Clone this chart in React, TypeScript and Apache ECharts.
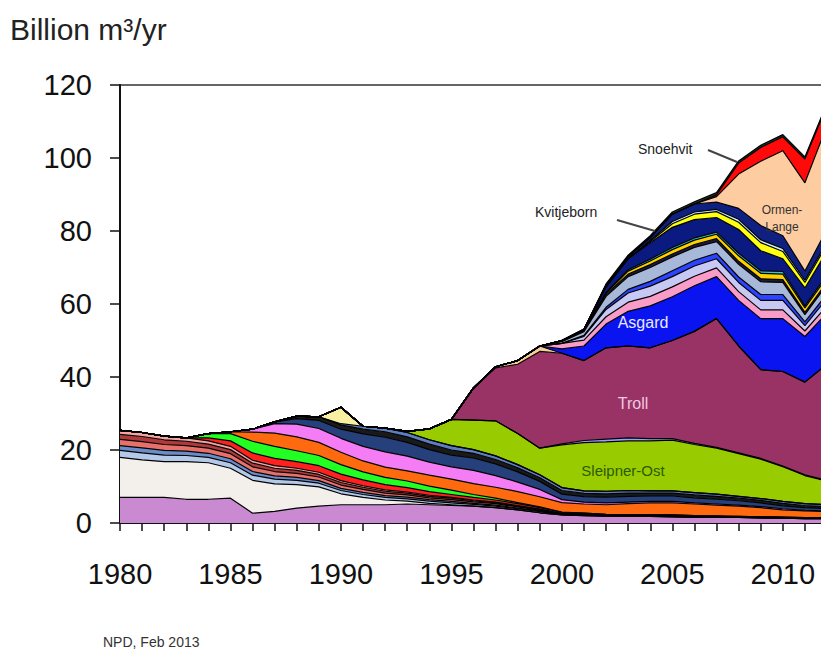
import React, { useEffect, useRef } from "react";
import * as echarts from "echarts";

const years = ["1980","1981","1982","1983","1984","1985","1986","1987","1988","1989","1990","1991","1992","1993","1994","1995","1996","1997","1998","1999","2000","2001","2002","2003","2004","2005","2006","2007","2008","2009","2010","2011","2012"];

const ekofisk = [7.0,7.0,7.0,6.5,6.5,6.8,2.7,3.2,4.1,4.6,5.0,5.0,5.0,5.2,5.0,4.8,4.6,4.2,3.6,2.8,2.2,2.0,1.9,1.8,1.8,1.7,1.6,1.6,1.5,1.4,1.3,1.2,1.2];
const frigg = [11.0,10.3,9.8,10.3,10.0,8.2,9.0,7.5,6.4,5.3,3.0,2.0,1.3,0.8,0.4,0.2,0,0,0,0,0,0,0,0,0,0,0,0,0,0,0,0,0];
const lightBlue = [1.9,1.9,1.8,1.7,1.5,1.5,1.4,1.3,1.2,1.0,0.9,0.8,0.7,0.6,0.6,0.5,0.5,0.4,0.3,0.3,0.1,0.1,0.1,0.1,0.1,0.1,0,0,0,0,0,0,0];
const steelBlue = [1.3,1.4,1.3,1.2,1.1,1.1,1.0,0.9,0.8,0.7,0.6,0.6,0.5,0.5,0.4,0.4,0.3,0.3,0.2,0.2,0.1,0.1,0.1,0.1,0.1,0.1,0.1,0.1,0.1,0.1,0.1,0.1,0.1];
const salmonRed = [1.7,1.7,1.6,1.5,1.4,1.4,1.3,1.2,1.1,1.0,0.9,0.8,0.7,0.6,0.5,0.5,0.4,0.4,0.3,0.2,0.1,0.1,0.1,0.1,0.1,0.1,0.1,0.1,0.1,0.1,0.1,0.1,0.1];
const darkRed = [1.4,1.4,1.3,1.2,1.1,1.1,1.0,0.9,0.8,0.7,0.7,0.6,0.5,0.5,0.4,0.4,0.3,0.2,0.2,0.2,0.1,0.1,0,0,0,0,0,0,0,0,0,0,0];
const salmon = [1.1,1.1,1.0,0.9,0.9,0.9,0.8,0.7,0.6,0.6,0.5,0.4,0.4,0.3,0.3,0.2,0.2,0.2,0.2,0.1,0,0,0,0,0,0,0,0,0,0,0,0,0];
const red80s = [0,0,0,0,0.8,1.5,2.0,2.0,1.8,1.8,1.8,1.6,1.4,1.2,1.0,0.8,0.7,0.6,0.5,0.4,0.3,0.3,0.2,0.2,0.2,0.2,0.2,0.1,0.1,0.1,0.1,0.1,0.1];
const green80s = [0,0,0,0,1.2,2.0,3.2,3.3,3.0,2.8,2.6,2.2,2.0,1.8,1.5,1.2,0.8,0.5,0.3,0.2,0.1,0,0,0,0,0,0,0,0,0,0,0,0];
const orange = [0,0,0,0,0,0.5,2.5,3.6,3.8,3.6,3.4,3.0,2.8,2.8,3.0,3.0,3.0,3.0,3.0,2.8,2.6,2.5,2.6,3.0,3.2,3.3,3.2,3.0,2.8,2.5,2.0,1.8,1.6];
const magenta = [0,0,0,0,0,0,0.8,2.6,3.5,3.8,3.8,4.0,4.2,4.0,3.6,3.4,3.6,3.2,2.6,2.0,0.8,0.5,0.5,0.4,0.4,0.4,0.3,0.3,0.3,0.3,0.3,0.2,0.2];
const navy90s = [0,0,0,0,0,0,0,0.5,1.5,2.2,2.5,3.4,4.0,3.8,3.4,3.2,3.4,3.2,2.8,2.2,1.5,1.5,1.6,1.6,1.5,1.5,1.4,1.3,1.2,1.0,0.8,0.7,0.6];
const darkBand = [0,0,0,0,0,0,0,0,0.7,1.0,1.2,1.3,1.5,1.5,1.5,1.4,1.3,1.2,1.1,1.0,1.0,0.9,0.9,0.9,0.8,0.8,0.8,0.8,0.7,0.7,0.7,0.6,0.6];
const blueDotted = [0,0,0,0,0,0,0,0,0,0,0.3,0.8,1.0,1.2,1.2,1.2,1.0,1.0,0.9,0.8,0.8,0.7,0.7,0.7,0.6,0.6,0.6,0.6,0.5,0.5,0.5,0.5,0.5];
const yellowSpike = [0,0,0,0,0,0,0,0,0,0,4.5,0,0,0,0,0,0,0,0,0,0,0,0,0,0,0,0,0,0,0,0,0,0];
const sleipner = [0,0,0,0,0,0,0,0,0,0,0,0,0,0.3,3.0,7.2,8.1,9.6,8.5,7.3,11.7,13.2,13.5,13.6,13.7,13.9,13.2,12.6,11.7,10.8,9.5,7.7,6.5];
const periwinkle = [0,0,0,0,0,0,0,0,0,0,0,0,0,0,0,0,0,0,0,0,0.3,0.6,0.8,0.8,0.6,0.4,0.3,0.2,0.2,0.2,0.2,0.2,0.2];
const troll = [0,0,0,0,0,0,0,0,0,0,0,0,0,0,0,0,8.8,14.5,19.0,26.5,24.8,21.9,25.0,25.2,24.9,26.9,30.7,35.3,29.3,24.3,25.9,25.4,31.8];
const tan = [0,0,0,0,0,0,0,0,0,0,0,0,0,0,0,0,0,0.3,1.0,1.5,0,0,0,0,0,0,0,0,0,0,0,0,0];
const asgard = [0,0,0,0,0,0,0,0,0,0,0,0,0,0,0,0,0,0,0,0,1.2,4.0,6.5,9.5,11.5,12.0,12.5,11.5,12.5,14.0,14.5,12.5,14.0];
const pink = [0,0,0,0,0,0,0,0,0,0,0,0,0,0,0,0,0,0,0,0,1.5,1.6,2.0,2.5,2.6,2.7,2.6,2.4,2.4,2.4,2.4,1.5,2.0];
const lavender = [0,0,0,0,0,0,0,0,0,0,0,0,0,0,0,0,0,0,0,0,0,1.0,2.0,2.5,2.8,2.8,2.8,2.5,2.5,2.6,2.6,1.5,2.0];
const brightBlue = [0,0,0,0,0,0,0,0,0,0,0,0,0,0,0,0,0,0,0,0,0,0.3,0.6,1.0,1.3,1.6,1.6,1.5,1.5,1.6,1.6,1.0,1.3];
const grayBlue = [0,0,0,0,0,0,0,0,0,0,0,0,0,0,0,0,0,0,0,0,0.5,1.0,3.0,3.5,3.8,3.8,3.5,3.2,3.5,3.5,3.3,2.0,2.5];
const darkLine = [0,0,0,0,0,0,0,0,0,0,0,0,0,0,0,0,0,0,0,0,0.3,0.4,0.6,0.7,0.8,0.8,0.8,0.8,0.8,0.8,0.8,0.6,0.7];
const gold = [0,0,0,0,0,0,0,0,0,0,0,0,0,0,0,0,0,0,0,0,0,0,0.3,0.8,1.0,1.2,1.2,1.2,1.5,1.5,1.5,1.2,1.4];
const cyan = [0,0,0,0,0,0,0,0,0,0,0,0,0,0,0,0,0,0,0,0,0,0,0.2,0.4,0.5,0.6,0.6,0.6,0.7,0.7,0.7,0.5,0.6];
const kvitebjorn = [0,0,0,0,0,0,0,0,0,0,0,0,0,0,0,0,0,0,0,0,0,0.3,1.5,3.0,4.5,5.5,5.0,4.0,6.5,5.5,3.5,5.0,6.5];
const yellow = [0,0,0,0,0,0,0,0,0,0,0,0,0,0,0,0,0,0,0,0,0,0,0,0,0.3,1.0,1.5,1.6,2.0,2.2,2.0,1.5,1.8];
const lightCyan = [0,0,0,0,0,0,0,0,0,0,0,0,0,0,0,0,0,0,0,0,0,0,0,0,0.3,0.6,0.6,0.6,0.8,0.8,0.8,0.6,0.7];
const navyTop = [0,0,0,0,0,0,0,0,0,0,0,0,0,0,0,0,0,0,0,0,0,0,0.5,0.6,0.8,2.0,2.2,2.0,3.0,3.9,3.5,2.5,3.5];
const ormenLange = [0,0,0,0,0,0,0,0,0,0,0,0,0,0,0,0,0,0,0,0,0,0,0,0,0,0,0,1.5,9.4,17.6,23.3,24.2,28.4];
const snohvit = [0,0,0,0,0,0,0,0,0,0,0,0,0,0,0,0,0,0,0,0,0,0,0,0,0,0,0,0.5,3.0,3.8,3.8,6.5,5.5];
const topBand = [0,0,0,0,0,0,0,0,0,0,0,0,0,0,0,0,0,0,0,0,0,0,0.3,0.4,0.5,0.6,0.6,0.6,0.6,0.6,0.6,0.6,0.6];

const yTicks = [0, 20, 40, 60, 80, 100, 120];

const layers: [string, number[], string][] = [
  ["Ekofisk", ekofisk, "#c98ad2"],
  ["Frigg", frigg, "#f3f0eb"],
  ["F2", lightBlue, "#b4c8e8"],
  ["F3", steelBlue, "#6a8cc8"],
  ["F4", salmonRed, "#e8706a"],
  ["F5", darkRed, "#b03a3a"],
  ["F6", salmon, "#f4a3a0"],
  ["Statfjord", red80s, "#ff2020"],
  ["F8", green80s, "#22ff22"],
  ["F9", orange, "#ff6a10"],
  ["F10", magenta, "#f47cf4"],
  ["F11", navy90s, "#25407a"],
  ["F12", darkBand, "#1a1a1a"],
  ["F13", blueDotted, "#5a7ec0"],
  ["F14", yellowSpike, "#f8f0a0"],
  ["Sleipner-Ost", sleipner, "#99cc00"],
  ["F16", periwinkle, "#9aa0ff"],
  ["Troll", troll, "#993366"],
  ["F18", tan, "#f6cf95"],
  ["Asgard", asgard, "#0a14f0"],
  ["F20", pink, "#f99cc8"],
  ["F21", lavender, "#c8c8f4"],
  ["F22", brightBlue, "#2a44ff"],
  ["F23", grayBlue, "#a8b8d8"],
  ["F24", darkLine, "#1c1c3c"],
  ["F25", gold, "#ffd000"],
  ["F26", cyan, "#30c8c8"],
  ["Kvitebjorn", kvitebjorn, "#0a1a80"],
  ["F28", yellow, "#ffff10"],
  ["F29", lightCyan, "#c8f0f8"],
  ["F30", navyTop, "#102080"],
  ["Ormen Lange", ormenLange, "#fdcca0"],
  ["Snohvit", snohvit, "#ff0a0a"],
  ["F33", topBand, "#143c28"],
];

const FONT = "'Liberation Sans', Arial, sans-serif";

export default function App() {
  const ref = useRef<HTMLDivElement>(null);
  useEffect(() => {
    if (!ref.current) return;
    const chart = echarts.init(ref.current, null, { renderer: "svg" });
    chart.setOption({
      animation: false,
      grid: { left: 120, top: 85, width: 707, height: 438, show: true, borderColor: "#333", borderWidth: 1.5, backgroundColor: "transparent" },
      xAxis: {
        type: "category",
        data: years,
        boundaryGap: false,
        axisLine: { lineStyle: { color: "#111", width: 2 } },
        axisTick: { show: true, interval: 0, length: 8, lineStyle: { color: "#111", width: 1.5 } },
        axisLabel: { interval: 4, fontSize: 29, color: "#111", margin: 36, fontFamily: FONT },
        splitLine: { show: false },
      },
      yAxis: {
        type: "value",
        min: yTicks[0],
        max: yTicks[yTicks.length - 1],
        interval: 20,
        axisLine: { show: true, lineStyle: { color: "#111", width: 2 } },
        axisTick: { show: true, length: 10, lineStyle: { color: "#111", width: 1.5 } },
        axisLabel: { fontSize: 29, color: "#111", margin: 28, fontFamily: FONT },
        splitLine: { show: false },
      },
      series: layers.map(([name, data, color]) => ({
        name,
        type: "line",
        stack: "total",
        data,
        symbol: "none",
        silent: true,
        emphasis: { disabled: true },
        lineStyle: { color: "#000", width: 1.2 },
        areaStyle: { color, opacity: 1 },
      })),
      graphic: [
        { type: "text", z: 100, left: 10, top: 14, style: { text: "Billion m³/yr", fontSize: 30, fill: "#222", fontFamily: FONT } },
        { type: "text", z: 100, x: 103, y: 642, style: { text: "NPD, Feb 2013", fontSize: 14, fill: "#333", verticalAlign: "middle", fontFamily: FONT } },
        { type: "text", z: 100, left: 638, top: 142, style: { text: "Snoehvit", fontSize: 14, fill: "#222", fontFamily: FONT } },
        { type: "line", z: 100, shape: { x1: 708, y1: 150, x2: 737, y2: 162 }, style: { stroke: "#444", lineWidth: 2 } },
        { type: "text", z: 100, left: 535, top: 205, style: { text: "Kvitjeborn", fontSize: 14, fill: "#222", fontFamily: FONT } },
        { type: "line", z: 100, shape: { x1: 617, y1: 220, x2: 655, y2: 231 }, style: { stroke: "#444", lineWidth: 2 } },
        { type: "text", z: 100, x: 782, y: 218, style: { text: "Ormen-\nLange", fontSize: 12, lineHeight: 17, fill: "#333", align: "center", verticalAlign: "middle", fontFamily: FONT } },
        { type: "text", z: 100, x: 643, y: 322, style: { text: "Asgard", fontSize: 16, fill: "#e8e8ff", align: "center", verticalAlign: "middle", fontFamily: FONT } },
        { type: "text", z: 100, x: 633, y: 403, style: { text: "Troll", fontSize: 16, fill: "#f2c8e0", align: "center", verticalAlign: "middle", fontFamily: FONT } },
        { type: "text", z: 100, x: 623, y: 470, style: { text: "Sleipner-Ost", fontSize: 15, fill: "#2d5a00", align: "center", verticalAlign: "middle", fontFamily: FONT } },
      ],
    });
    return () => chart.dispose();
  }, []);
  return (
    <div style={{ position: "fixed", left: 0, top: 0, width: 821, height: 651, overflow: "hidden", background: "#fff" }}>
      <div ref={ref} style={{ width: 850, height: 651 }} />
    </div>
  );
}
